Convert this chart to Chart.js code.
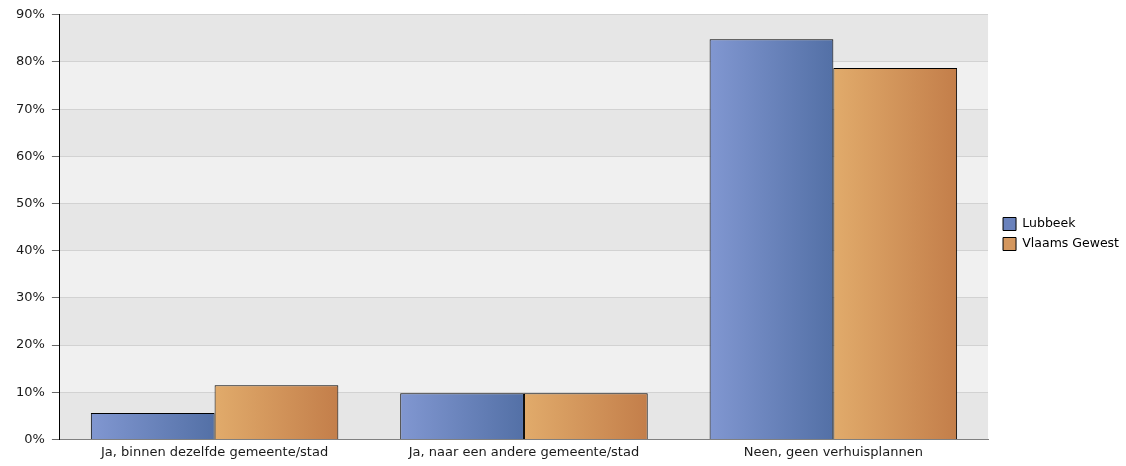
<!DOCTYPE html>
<html>
<head>
<meta charset="utf-8">
<script src="https://cdn.jsdelivr.net/npm/chart.js@4.4.0/dist/chart.umd.min.js"></script>
<style>
  html, body { margin: 0; padding: 0; background: #ffffff; }
  #wrap { width: 1126px; height: 466px; position: relative; }
</style>
</head>
<body>
<div id="wrap"><canvas id="chart"></canvas></div>
<script>
// categories and series values (percent)
const categories = [
    "Ja, binnen dezelfde gemeente/stad",
    "Ja, naar een andere gemeente/stad",
    "Neen, geen verhuisplannen"
];
const lubbeek = [5.6, 9.8, 84.8];
const vlaamsGewest = [11.5, 9.8, 78.7];
const seriesNames = ["Lubbeek", "Vlaams Gewest"];

// gradient colours per series: light (left) -> dark (right)
const gradStops = [
    ["#8197d1", "#5370a6"],
    ["#e1ab6b", "#c37e4a"]
];

function barGradient(context) {
    const chart = context.chart;
    const area = chart.chartArea;
    const xs = chart.scales.x;
    if (!area || !xs || context.dataIndex === undefined) return gradStops[context.datasetIndex][1];
    const catW = xs.width / categories.length;
    const barW = catW * 0.8 / 2;
    const center = xs.getPixelForValue(context.dataIndex);
    const left = center - catW * 0.4 + context.datasetIndex * barW;
    const g = chart.ctx.createLinearGradient(left, 0, left + barW, 0);
    g.addColorStop(0, gradStops[context.datasetIndex][0]);
    g.addColorStop(1, gradStops[context.datasetIndex][1]);
    return g;
}

// alternating background bands behind the plot
const bandPlugin = {
    id: 'bands',
    afterLayout(chart) {
        // push the legend a bit further away from the plot
        if (chart.legend) {
            chart.legend.left += 8;
            chart.legend.right += 8;
        }
    },
    beforeDraw(chart) {
        const { ctx, chartArea, scales } = chart;
        const y = scales.y;
        ctx.save();
        for (let v = 0; v < 90; v += 10) {
            const top = y.getPixelForValue(v + 10);
            const bottom = y.getPixelForValue(v);
            ctx.fillStyle = (v / 10) % 2 === 0 ? '#e6e6e6' : '#f0f0f0';
            ctx.fillRect(chartArea.left, top, chartArea.right - chartArea.left, bottom - top);
        }
        ctx.restore();
    }
};

Chart.defaults.font.family = "'DejaVu Sans', Verdana, sans-serif";
Chart.defaults.font.size = 13;
Chart.defaults.color = '#1a1a1a';

const ctx = document.getElementById('chart').getContext('2d');
new Chart(ctx, {
    type: 'bar',
    data: {
        labels: categories,
        datasets: [{
            label: seriesNames[0],
            data: lubbeek,
            backgroundColor: barGradient,
            borderColor: '#000000',
            borderWidth: 1
        }, {
            label: seriesNames[1],
            data: vlaamsGewest,
            backgroundColor: barGradient,
            borderColor: '#000000',
            borderWidth: 1
        }]
    },
    options: {
        responsive: true,
        maintainAspectRatio: false,
        animation: false,
        datasets: {
            bar: { categoryPercentage: 0.8, barPercentage: 1.0 }
        },
        layout: {
            padding: { top: 3, right: 5, bottom: 1, left: 9 }
        },
        plugins: {
            legend: {
                position: 'right',
                labels: {
                    boxWidth: 13,
                    boxHeight: 13,
                    padding: 7,
                    color: '#1a1a1a',
                    font: { size: 12.5 },
                    generateLabels(chart) {
                        return chart.data.datasets.map((ds, i) => ({
                            text: ds.label,
                            fillStyle: i === 0 ? '#6a82bc' : '#d4975e',
                            strokeStyle: '#000000',
                            lineWidth: 1,
                            datasetIndex: i
                        }));
                    }
                }
            },
            tooltip: { enabled: false }
        },
        scales: {
            x: {
                grid: { display: false, drawTicks: false },
                border: { display: true, color: '#808080', width: 1 },
                ticks: { padding: 5 }
            },
            y: {
                min: 0,
                max: 90,
                ticks: {
                    stepSize: 10,
                    padding: 7,
                    callback: v => v + '%'
                },
                grid: {
                    color: '#d2d2d2',
                    tickColor: '#666666',
                    tickLength: 8
                },
                border: { display: true, color: '#000000', width: 1 }
            }
        }
    },
    plugins: [bandPlugin]
});
</script>
</body>
</html>
